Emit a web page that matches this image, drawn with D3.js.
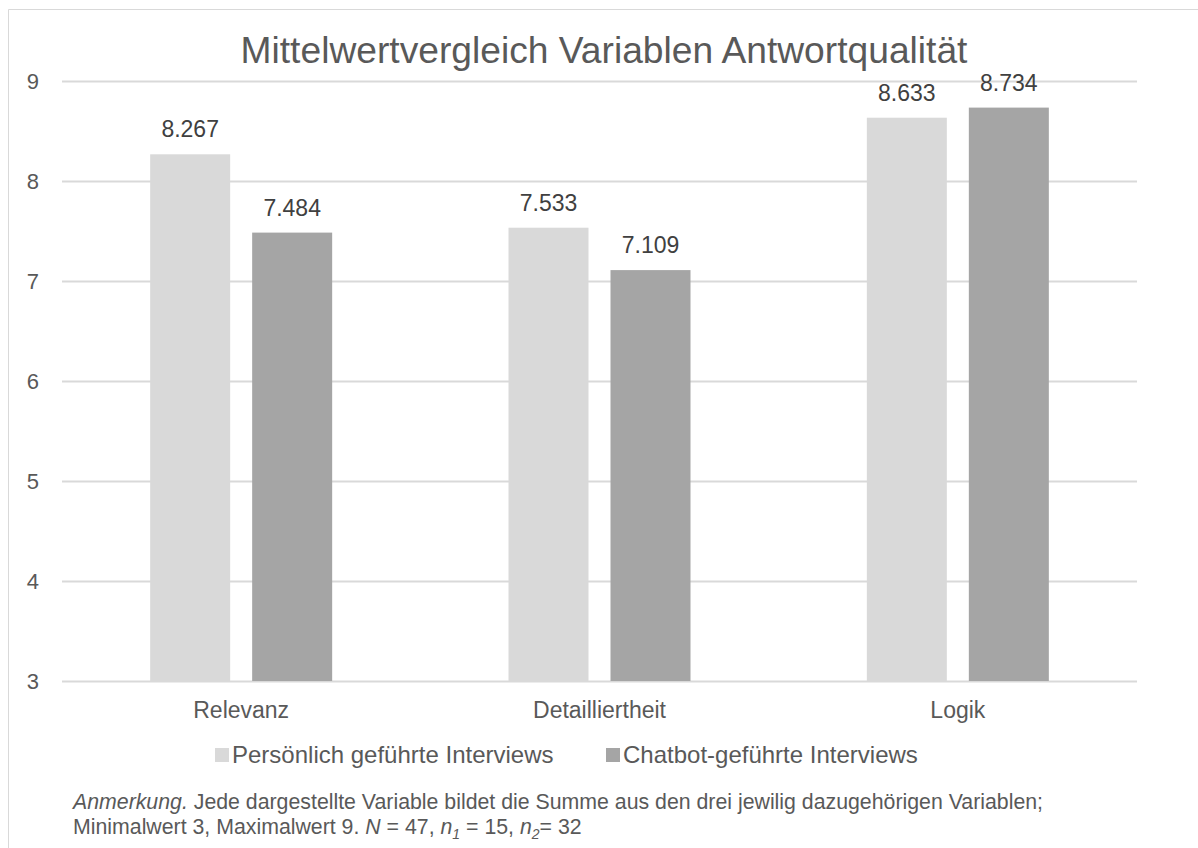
<!DOCTYPE html>
<html>
<head>
<meta charset="utf-8">
<script src="https://cdn.jsdelivr.net/npm/d3@7"></script>
<style>
  html, body { margin: 0; padding: 0; background: #fff; }
  svg { display: block; font-family: "Liberation Sans", Arial, sans-serif; }
</style>
</head>
<body>
<svg id="chart" width="1198" height="848"></svg>
<script>
const categories = ["Relevanz", "Detailliertheit", "Logik"];
const seriesNames = ["Persönlich geführte Interviews", "Chatbot-geführte Interviews"];
const persoenlich = [8.267, 7.533, 8.633];
const chatbot = [7.484, 7.109, 8.734];
const yTicks = [3, 4, 5, 6, 7, 8, 9];
const colors = ["#d9d9d9", "#a5a5a5"];
const title = "Mittelwertvergleich Variablen Antwortqualität";

const svg = d3.select("#chart");
const W = 1198, H = 848;

// outer frame (top and left edges visible)
svg.append("line").attr("x1", 8.5).attr("x2", W).attr("y1", 9.5).attr("y2", 9.5)
  .attr("stroke", "#d9d9d9").attr("stroke-width", 1);
svg.append("line").attr("x1", 8.5).attr("x2", 8.5).attr("y1", 9.5).attr("y2", H)
  .attr("stroke", "#d9d9d9").attr("stroke-width", 1);

const plot = { left: 62, right: 1137, top: 81, bottom: 681 };

const x0 = d3.scaleBand().domain(categories).range([plot.left, plot.right]).paddingInner(0).paddingOuter(0);
const y = d3.scaleLinear().domain([3, 9]).range([plot.bottom, plot.top]);

// gridlines
svg.append("g").selectAll("line").data(yTicks).join("line")
  .attr("x1", plot.left).attr("x2", plot.right)
  .attr("y1", d => Math.round(y(d)) + 0.5).attr("y2", d => Math.round(y(d)) + 0.5)
  .attr("stroke", "#d9d9d9").attr("stroke-width", 2);

// y axis labels
const yAxis = d3.axisLeft(y).tickValues(yTicks).tickSize(0).tickPadding(0).tickFormat(d3.format("d"));
const yg = svg.append("g").attr("transform", `translate(39,0)`).call(yAxis);
yg.select(".domain").remove();
yg.selectAll("text").attr("font-size", 22).attr("fill", "#595959")
  .attr("font-family", "'Liberation Sans', Arial, sans-serif").attr("dy", "0.35em");

// bars
const barW = 80, gap = 22;
const data = categories.map((c, i) => ({ cat: c, vals: [persoenlich[i], chatbot[i]] }));
const groups = svg.append("g").selectAll("g").data(data).join("g");
groups.each(function(d) {
  const cx = x0(d.cat) + x0.bandwidth() / 2;
  const g = d3.select(this);
  d.vals.forEach((v, j) => {
    const bx = j === 0 ? cx - gap / 2 - barW : cx + gap / 2;
    g.append("rect").attr("x", bx).attr("width", barW)
      .attr("y", y(v)).attr("height", y(3) - y(v)).attr("fill", colors[j]);
    g.append("text").attr("x", bx + barW / 2).attr("y", y(v) - 17)
      .attr("text-anchor", "middle").attr("font-size", 23).attr("fill", "#404040")
      .text(d3.format(".3f")(v));
  });
});

// x axis labels
const xAxis = d3.axisBottom(x0).tickSize(0).tickPadding(0);
const xg = svg.append("g").attr("transform", `translate(0,${plot.bottom})`).call(xAxis);
xg.select(".domain").remove();
xg.selectAll("text").attr("font-size", 23).attr("fill", "#595959")
  .attr("font-family", "'Liberation Sans', Arial, sans-serif")
  .attr("dy", null).attr("y", 37);

// title
svg.append("text").attr("x", 604).attr("y", 63).attr("text-anchor", "middle")
  .attr("font-size", 37.2).attr("fill", "#595959").text(title);

// legend
const legendX = [215, 606];
const lg = svg.append("g").selectAll("g").data(seriesNames).join("g")
  .attr("transform", (d, i) => `translate(${legendX[i]},0)`);
lg.append("rect").attr("x", 0).attr("y", 748).attr("width", 14).attr("height", 14)
  .attr("fill", (d, i) => colors[i]);
lg.append("text").attr("x", 17).attr("y", 763).attr("font-size", 24).attr("fill", "#595959")
  .text(d => d);

// note
const note = svg.append("g").attr("fill", "#595959").attr("font-size", 21.3);
const l1 = note.append("text").attr("x", 73).attr("y", 809);
l1.append("tspan").attr("font-style", "italic").text("Anmerkung.");
l1.append("tspan").text(" Jede dargestellte Variable bildet die Summe aus den drei jewilig dazugehörigen Variablen;");
const l2 = note.append("text").attr("x", 73).attr("y", 834);
l2.append("tspan").text("Minimalwert 3, Maximalwert 9. ");
l2.append("tspan").attr("font-style", "italic").text("N");
l2.append("tspan").text(" = 47, ");
l2.append("tspan").attr("font-style", "italic").text("n");
l2.append("tspan").attr("font-style", "italic").attr("font-size", 14).attr("dy", 5).text("1");
l2.append("tspan").attr("dy", -5).text(" = 15, ");
l2.append("tspan").attr("font-style", "italic").text("n");
l2.append("tspan").attr("font-style", "italic").attr("font-size", 14).attr("dy", 5).text("2");
l2.append("tspan").attr("dy", -5).text("= 32");
</script>
</body>
</html>
